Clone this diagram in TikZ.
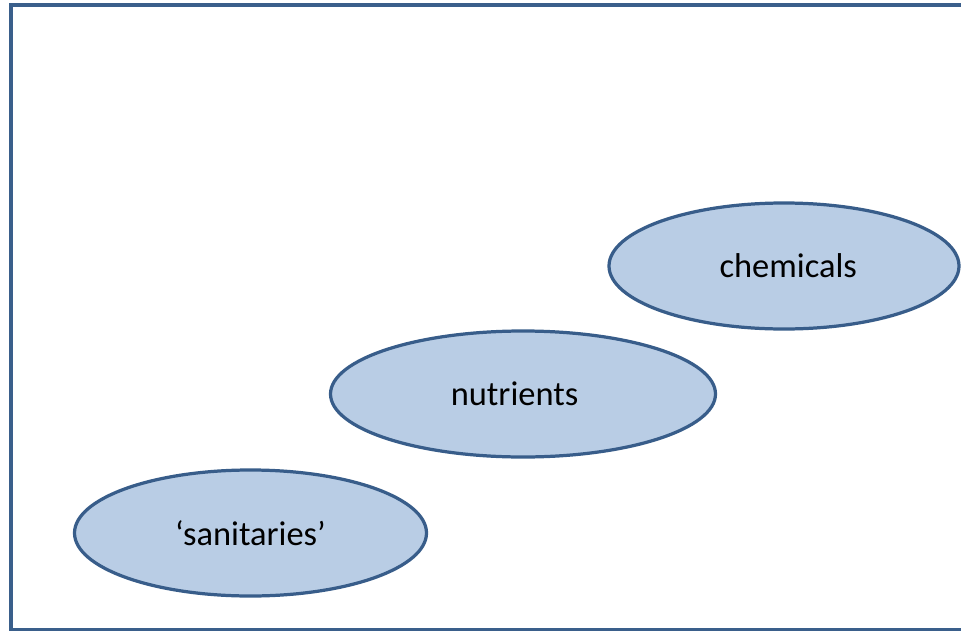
\documentclass[tikz,border=0pt]{standalone}
\usepackage{fontspec}
\setmainfont{Carlito}
\usetikzlibrary{shapes.geometric}
\definecolor{blobfill}{HTML}{B9CDE5}
\definecolor{blobline}{HTML}{385D8A}
\definecolor{frameline}{HTML}{3A5F8B}
\begin{document}
\begin{tikzpicture}[x=0.025cm,y=-0.025cm,
    blob/.style={ellipse,draw=blobline,fill=blobfill,line width=2.3pt,
      inner sep=0pt,minimum height=126*0.025cm,
      font=\fontsize{24.5}{29}\selectfont}]
        \useasboundingbox (0,0) rectangle (961,631);
        \clip (0,0) rectangle (961,631);
        \draw [frameline,line width=2.9pt]
          (10.7,5) rectangle (990,630.5);
        \node (chem)[blob,minimum width=350*0.025cm]
          at (784,266) {\kern6pt chemicals};
        \node (nutr)[blob,minimum width=385*0.025cm]
          at (523,394) {nutrients\kern12pt};
        \node (sani)[blob,minimum width=352*0.025cm]
          at (250.5,533) {‘sanitaries’};
      \end{tikzpicture}
\end{document}
